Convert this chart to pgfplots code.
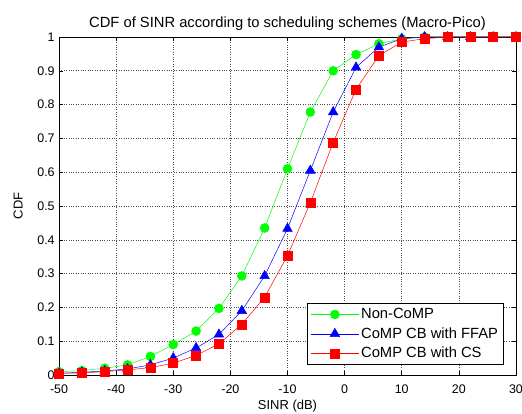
\documentclass[border=0pt]{standalone}
\usepackage{fontspec}
\setmainfont{Liberation Sans}
\usepackage{pgfplots}
\pgfplotsset{compat=1.18}

\begin{document}
\begin{tikzpicture}
\fontsize{12.5}{14}\selectfont
% axis box sits with its south west corner at the origin
\useasboundingbox (-59bp,-39bp) rectangle (463bp,375bp);
\begin{axis}[
scale only axis,
width=457bp, height=338bp,
xmin=-50, xmax=30,
ymin=0, ymax=1,
xtick={-50,-40,...,30},
ytick={0,0.1,...,1},
yticklabels={0,0.1,0.2,0.3,0.4,0.5,0.6,0.7,0.8,0.9,1},
/pgf/number format/assume math mode=true,
ticklabel style={font=\fontsize{12.5}{14}\selectfont},
xticklabel style={yshift=-5bp},
tick align=inside,
tick pos=both,
major tick length=4bp,
grid=major,
grid style={black!70, dotted, line width=0.6pt},
axis line style={black, line width=0.5pt},
tick style={black, line width=0.5pt},
title={CDF of SINR according to scheduling schemes (Macro-Pico)},
title style={font=\fontsize{14.8}{16}\selectfont, yshift=-4bp},
xlabel={SINR (dB)},
ylabel={CDF},
label style={font=\fontsize{13}{15}\selectfont},
xlabel style={yshift=2bp},
ylabel style={yshift=6bp},
legend style={at={(0.972,0.03)}, anchor=south east, draw=black, line width=0.5pt,
  font=\fontsize{14.8}{17}\selectfont, row sep=3bp, inner sep=3bp},
legend cell align=left,
legend image code/.code={\draw[mark repeat=2,mark phase=2] plot coordinates {(0bp,0bp)(24bp,0bp)(48bp,0bp)};},
]
\addplot[color={rgb,1:red,0;green,1;blue,0}, line width=0.5pt, mark=*, mark size=4.5bp,
  mark options={fill={rgb,1:red,0;green,1;blue,0}, draw={rgb,1:red,0;green,1;blue,0}}]
table {%
-50 0.010
-46 0.013
-42 0.020
-38 0.030
-34 0.055
-30 0.090
-26 0.130
-22 0.197
-18 0.293
-14 0.435
-10 0.610
-6 0.778
-2 0.900
2 0.948
6 0.980
10 0.995
14 1.000
18 1.000
22 1.000
26 1.000
30 1.000
};
\addlegendentry{Non-CoMP}
\addplot[color=blue, line width=0.5pt, mark=triangle*, mark size=5.5bp,
  mark options={fill=blue, draw=blue}]
table {%
-50 0.005
-46 0.008
-42 0.012
-38 0.018
-34 0.030
-30 0.050
-26 0.080
-22 0.120
-18 0.190
-14 0.293
-10 0.433
-6 0.605
-2 0.778
2 0.910
6 0.970
10 0.995
14 1.000
18 1.000
22 1.000
26 1.000
30 1.000
};
\addlegendentry{CoMP CB with FFAP}
\addplot[color=red, line width=0.5pt, mark=square*, mark size=4.5bp,
  mark options={fill=red, draw=red}]
table {%
-50 0.005
-46 0.006
-42 0.010
-38 0.015
-34 0.022
-30 0.035
-26 0.058
-22 0.092
-18 0.150
-14 0.230
-10 0.353
-6 0.510
-2 0.688
2 0.845
6 0.945
10 0.985
14 0.995
18 1.000
22 1.000
26 1.000
30 1.000
};
\addlegendentry{CoMP CB with CS}
\end{axis}
\end{tikzpicture}
\end{document}
